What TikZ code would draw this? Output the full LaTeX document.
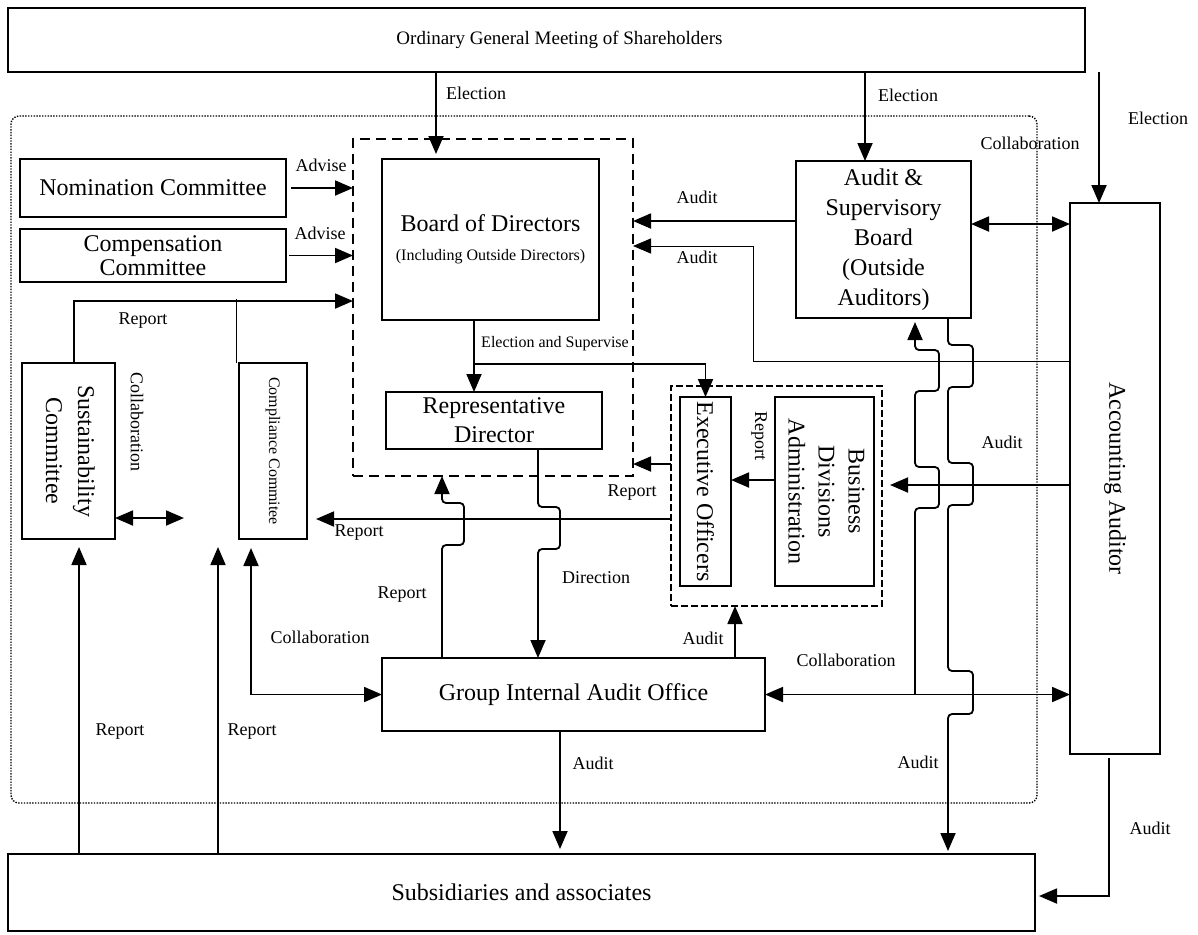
\documentclass[tikz,border=0pt]{standalone}
\usepackage{fontspec}
\setmainfont{Liberation Serif}
\usepackage{graphicx}
\usetikzlibrary{arrows.meta}

\begin{document}
\begin{tikzpicture}[x=0.5pt,y=-0.5pt,
  box/.style={draw,line width=0.9pt,inner sep=0pt,outer sep=0pt,align=center,font=\fontsize{12}{14.5}\selectfont},
  grp/.style={draw,line width=0.8pt,inner sep=0pt,outer sep=0pt},
  lbl/.style={inner sep=0pt,font=\fontsize{9}{10}\selectfont},
  arr/.style={line width=0.9pt,-{Triangle[length=9pt,width=7.5pt]}},
  thinarr/.style={line width=0.5pt,-{Triangle[length=9pt,width=7.5pt]}},
  dbl/.style={line width=0.9pt,{Triangle[length=9pt,width=7.5pt]}-{Triangle[length=9pt,width=7.5pt]}},
  jog/.style={rounded corners=2pt}]
  \useasboundingbox (0,0) rectangle (1198,934);

  % Draw the meeting and the company area
  \node[box,minimum width=538.5pt,minimum height=32pt,font=\fontsize{9.5}{11}\selectfont] (gms) at (546.5,40) {\hspace*{13pt}Ordinary General Meeting of Shareholders};
  \node[draw,line width=0.7pt,dash pattern=on 0.7pt off 0.7pt,rounded corners=4pt,inner sep=0pt,minimum width=513pt,minimum height=343.5pt] (inner) at (524,459.5) {};

  % Draw the committees
  \node[box,minimum width=133pt,minimum height=29pt] (nom) at (153,188) {Nomination Committee};
  \node[box,minimum width=133pt,minimum height=26.5pt,font=\fontsize{12}{12}\selectfont] (comp) at (153,255.5) {Compensation\\Committee};
  \node[box,minimum width=46.5pt,minimum height=88pt,font=\fontsize{12}{16}\selectfont] (sust) at (68.5,451) {\rotatebox{-90}{\begin{tabular}{@{}c@{}}Sustainability\\Committee\end{tabular}}};
  \node[box,minimum width=34pt,minimum height=88pt] (cmp) at (273,451) {\rotatebox{-90}{\fontsize{8}{9.5}\selectfont Compliance Commitee}};

  % Draw the board and the executives
  \node[grp,dash pattern=on 5pt off 3pt,minimum width=140pt,minimum height=168.5pt] (brdgrp) at (493,307.5) {};
  \node[box,minimum width=108.5pt,minimum height=80.5pt] (board) at (490.5,239.5) {Board of Directors\\{\fontsize{8}{9.5}\selectfont (Including Outside Directors)}};
  \node[box,minimum width=108pt,minimum height=28.5pt] (rep) at (494,420.5) {Representative\\Director};
  \node[grp,dash pattern=on 3.5pt off 1.5pt,minimum width=105.5pt,minimum height=110pt] (execgrp) at (776.5,496) {};
  \node[box,minimum width=25.5pt,minimum height=94.5pt] (exec) at (705.5,491.5) {\rotatebox{-90}{Executive Officers}};
  \node[box,minimum width=49.5pt,minimum height=94.5pt,font=\fontsize{12}{15}\selectfont] (bus) at (824.5,491.5) {\rotatebox{-90}{\begin{tabular}{@{}c@{}}Business\\Divisions\\Administration\end{tabular}}};

  % Draw the auditors and the subsidiaries
  \node[box,minimum width=87.5pt,minimum height=78.5pt,font=\fontsize{12}{15}\selectfont] (sas) at (883.5,239.5) {Audit \&\\Supervisory\\Board\\(Outside\\Auditors)};
  \node[box,minimum width=45pt,minimum height=275.5pt] (acct) at (1115,478.5) {\rotatebox{-90}{Accounting Auditor}};
  \node[box,minimum width=191.5pt,minimum height=36.5pt] (gia) at (573.5,694.5) {Group Internal Audit Office};
  \node[box,minimum width=513.5pt,minimum height=38.5pt] (subs) at (521.5,892.5) {Subsidiaries and associates};

  % Draw the elections
  \draw[arr,shorten >=2.5pt] (gms.south -| 436,0) -- (board.north -| 436,0);
  \draw[arr] (gms.south -| 865,0) -- (sas.north -| 865,0);
  \draw[arr] (gms.south -| 1099,0) -- (acct.north -| 1099,0);
  \draw[dbl] (sas.east |- 0,224) -- (acct.west |- 0,224);

  % Draw the advice and reports to the board
  \draw[arr] ([xshift=2.5pt]nom.east) -- (brdgrp.west |- nom.east);
  \draw[arr] ([xshift=1.5pt]comp.east) -- (brdgrp.west |- comp.east);
  \draw[arr] (sust.north -| 74,0) |- (brdgrp.west |- 0,301);
  \coordinate (cj) at (236,299);
  \draw[line width=0.5pt] (cmp.north -| cj) -- (cj);
  \coordinate (sc) at (184,518);
  \draw[dbl] (sust.east |- sc) -- (sc);

  % Draw the election and supervision
  \coordinate (es) at (474,364);
  \draw[arr] (board.south -| es) -- (rep.north -| es);
  \draw[arr] (es) -| (exec.north);

  % Draw the audits of the board
  \draw[arr] (sas.west |- 0,221) -- (brdgrp.east |- 0,221);
  \draw[thinarr] (acct.west |- 0,361) -| (753,246) -- (brdgrp.east |- 0,246);

  % Draw the reports of the executives
  \draw[arr] (execgrp.west |- 0,464) -- (brdgrp.east |- 0,464);
  \draw[arr] (bus.west |- 0,480) -- (exec.east |- 0,480);
  \draw[arr,shorten >=4.5pt] (execgrp.west |- 0,519) -- (cmp.east |- 0,519);
  \draw[arr,shorten >=4pt] (acct.west |- 0,485) -- (execgrp.east |- 0,485);

  % Draw the lines round the internal audit office
  \draw[arr,jog] (rep.south -| 538,0) -- (538,507) -- (560,507) -- (560,549) -- (538,549) -- (gia.north -| 538,0);
  \draw[arr,jog] (gia.north -| 442,0) -- (442,545) -- (464,545) -- (464,503) -- (442,503) -- (brdgrp.south -| 442,0);
  \draw[arr] (gia.north -| 735,0) -- (execgrp.south -| 735,0);
  \draw[dbl,shorten <=4.5pt] (cmp.south -| 251,0) |- (gia.west);
  \draw[dbl] (gia.east) -- (acct.west |- gia.east);
  \draw[arr,shorten >=2.5pt] (gia.south -| 560,0) -- (subs.north -| 560,0);

  % Draw the reports from the subsidiaries
  \draw[arr,shorten >=4pt] (subs.north -| 79,0) -- (sust.south -| 79,0);
  \coordinate (rp) at (218,547);
  \draw[arr] (subs.north -| rp) -- (rp);

  % Draw the lines of the audit board
  \draw[arr,jog,shorten >=2pt] (gia.east -| 915,0) -- (915,508) -- (939,508) -- (939,467) -- (915,467) -- (915,391) -- (939,391) -- (939,350) -- (915,350) -- (sas.south -| 915,0);
  \draw[arr,jog,shorten >=1.5pt] (sas.south -| 948,0) -- (948,345) -- (973,345) -- (973,387) -- (948,387) -- (948,463) -- (973,463) -- (973,505) -- (948,505) -- (948,671) -- (973,671) -- (973,714) -- (948,714) -- (subs.north -| 948,0);
  \draw[arr,shorten <=2pt,shorten >=2pt] (acct.south -| 1109,0) |- (subs.east |- 0,896);

  % Draw the labels
  \node[lbl] (l-el1) at (476,93) {Election};
  \node[lbl] (l-el2) at (908,95) {Election};
  \node[lbl] (l-el3) at (1158,118) {Election};
  \node[lbl] (l-co1) at (1030,143) {Collaboration};
  \node[lbl] (l-adv1) at (321,165) {Advise};
  \node[lbl] (l-adv2) at (320,233) {Advise};
  \node[lbl] (l-rep1) at (143,321) {Report};
  \node[lbl,rotate=-90] (l-co2) at (137,422) {Collaboration};
  \node[lbl] (l-au1) at (697,197) {Audit};
  \node[lbl] (l-au2) at (697,257) {Audit};
  \node[lbl,font=\fontsize{8}{9.5}\selectfont] (l-es) at (555,344) {Election and Supervise};
  \node[lbl] (l-rep2) at (632,493) {Report};
  \node[lbl,rotate=-90] (l-rep3) at (759,436) {Report};
  \node[lbl] (l-au3) at (1002,442) {Audit};
  \node[lbl] (l-rep4) at (359,533) {Report};
  \node[lbl] (l-rep5) at (402,595) {Report};
  \node[lbl] (l-dir) at (596,578) {Direction};
  \node[lbl] (l-co3) at (320,637) {Collaboration};
  \node[lbl] (l-au4) at (703,638) {Audit};
  \node[lbl] (l-co4) at (846,660) {Collaboration};
  \node[lbl] (l-rep6) at (120,732) {Report};
  \node[lbl] (l-rep7) at (252,732) {Report};
  \node[lbl] (l-au5) at (593,763) {Audit};
  \node[lbl] (l-au6) at (918,762) {Audit};
  \node[lbl] (l-au7) at (1150,828) {Audit};
\end{tikzpicture}
\end{document}
